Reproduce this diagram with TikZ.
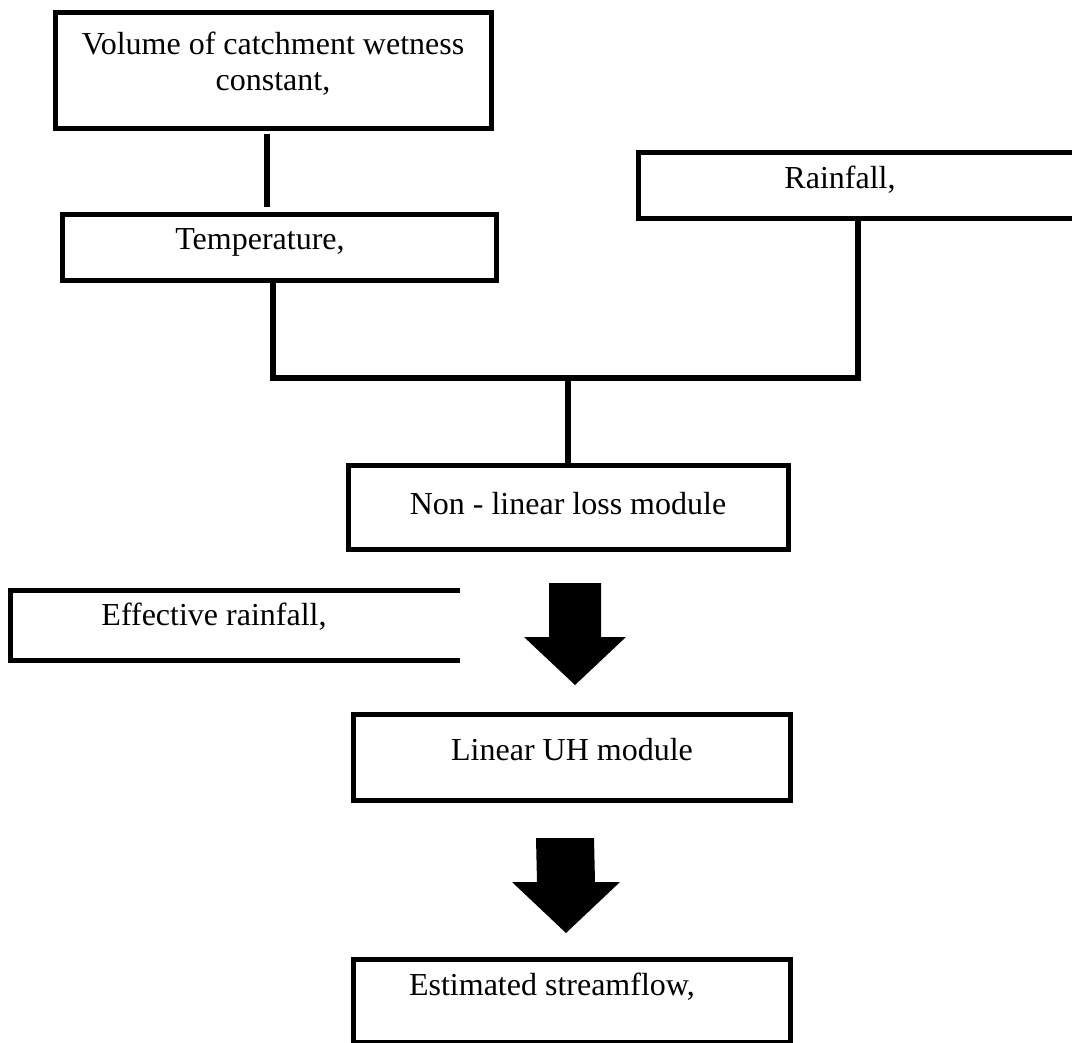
\documentclass[tikz,border=0pt]{standalone}
\usepackage{fontspec}
\setmainfont{Liberation Serif}
\usetikzlibrary{calc}

\begin{document}
\begin{tikzpicture}[x=1pt,y=-1pt,
  box/.style={draw=black, line width=5pt, inner sep=0pt, anchor=north,
    font=\fontsize{32}{36}\selectfont},
  link/.style={line width=6.5pt, line join=miter},
  bigarrow/.style={fill=black}]
\useasboundingbox (0,0) rectangle (1072,1043);

% boxes
\node[box, minimum width=436, align=center, text height=78, text depth=38] (vol) at (273,10) {Volume of catchment wetness\\constant,};
\node[box, minimum width=434, text height=35, text depth=31] (temp) at (279,212) {Temperature,\hspace*{38pt}};
\node[box, minimum width=440, text height=36, text depth=30] (rain) at (858,150) {Rainfall,\hspace*{36pt}};
\node[box, minimum width=440, text height=49, text depth=35] (nonlin) at (568,463) {Non - linear loss module};
\node[box, draw=none, minimum width=445, text height=33, text depth=32] (eff) at (235,590) {Effective rainfall,\hspace*{42pt}};
\node[box, minimum width=437, text height=46, text depth=40] (linuh) at (572,712) {Linear UH module};
\node[box, minimum width=437, text height=36, text depth=47] (est) at (572,957) {Estimated streamflow,\hspace*{40pt}};

% open box round effective rainfall
\draw[line width=5pt] (eff.north east) -- (eff.north west) -- (eff.south west) -- (eff.south east);

% connectors
\coordinate (merge) at (568,378);
\draw[link] ($(vol.south)+(-6,3)$) -- ($(temp.north)+(-12,-5)$);
\draw[link] ([xshift=-6pt]temp.south) |- (merge) -| (rain.south);
\draw[link] (merge) -- (nonlin.north);

% block arrows
\coordinate (a1top) at ($(nonlin.south)+(7,31)$);
\coordinate (a1tip) at ($(linuh.north)+(3,-27)$);
\fill[bigarrow] ($(a1top)+(-26,0)$) -- ($(a1top)+(26,0)$) -- ($(a1tip)+(26,-48)$) -- ($(a1tip)+(51,-48)$)
  -- (a1tip) -- ($(a1tip)+(-51,-48)$) -- ($(a1tip)+(-26,-48)$) -- cycle;
\coordinate (a2top) at ($(linuh.south)+(-7,35)$);
\coordinate (a2tip) at ($(est.north)+(-6,-24)$);
\fill[bigarrow] ($(a2top)+(-29,0)$) -- ($(a2top)+(29,0)$) -- ($(a2tip)+(29,-51)$) -- ($(a2tip)+(54,-51)$)
  -- (a2tip) -- ($(a2tip)+(-54,-51)$) -- ($(a2tip)+(-29,-51)$) -- cycle;
\end{tikzpicture}
\end{document}
